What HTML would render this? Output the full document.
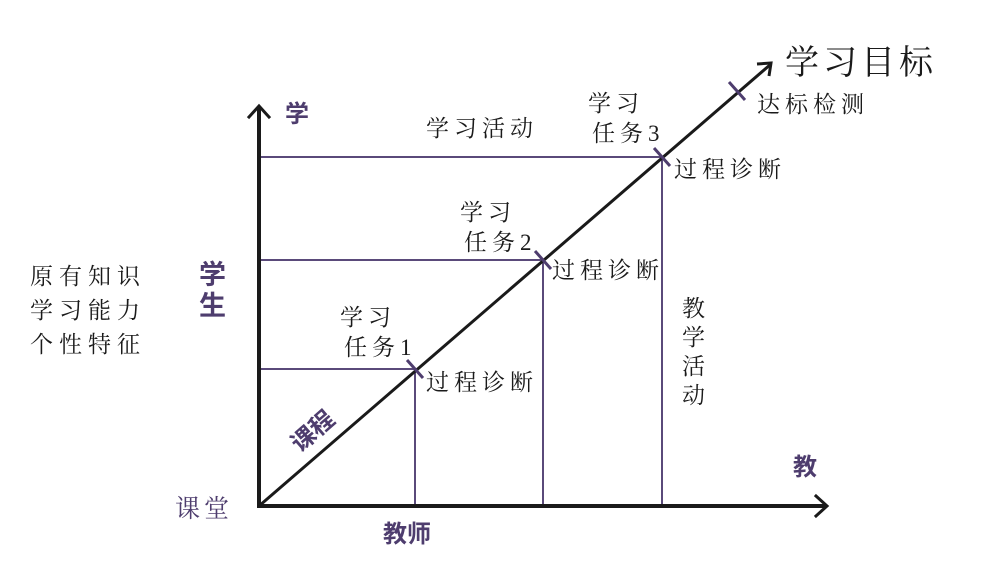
<!DOCTYPE html>
<html><head><meta charset="utf-8"><style>
body{margin:0;background:#fff;width:982px;height:567px;overflow:hidden}
svg{display:block}
.s{font-family:"Liberation Serif","Noto Serif CJK SC",serif;fill:#1a1a1a;letter-spacing:5px}
.p{font-family:"Liberation Sans","Noto Sans CJK SC",sans-serif;fill:#4e3d6e;font-weight:bold}
</style></head><body>
<svg width="982" height="567" viewBox="0 0 982 567">
<g stroke="#5a4a7a" stroke-width="2" fill="none">
<line x1="259" y1="157" x2="662" y2="157"/>
<line x1="259" y1="260" x2="543" y2="260"/>
<line x1="259" y1="369" x2="415" y2="369"/>
<line x1="662" y1="157" x2="662" y2="506"/>
<line x1="543" y1="260" x2="543" y2="506"/>
<line x1="415" y1="369" x2="415" y2="506"/>
</g>
<g stroke="#1a1a1a" stroke-width="4" fill="none" stroke-linecap="square">
<line x1="259" y1="506" x2="259" y2="108"/>
<line x1="259" y1="506" x2="824" y2="506"/>
<polyline points="249,117 259,106 269,117" stroke-width="3"/>
<polyline points="816,496 827,506 816,516" stroke-width="3"/>
</g>
<line x1="259" y1="506" x2="771" y2="64" stroke="#1a1a1a" stroke-width="3"/>
<polyline points="757,64 771,63 769,76" stroke="#1a1a1a" stroke-width="3" fill="none"/>
<g stroke="#4e3d6e" stroke-width="3">
<line x1="407" y1="360" x2="423" y2="378"/>
<line x1="535" y1="251" x2="551" y2="269"/>
<line x1="654" y1="148" x2="670" y2="166"/>
<line x1="729" y1="82" x2="745" y2="100"/>
</g>
<g class="s" font-size="23">
<text x="426" y="136">学习活动</text>
<text x="588" y="111">学习</text>
<text x="592" y="141">任务3</text>
<text x="460" y="220">学习</text>
<text x="464" y="250">任务2</text>
<text x="340" y="325">学习</text>
<text x="344" y="355">任务1</text>
<text x="674" y="177">过程诊断</text>
<text x="552" y="278">过程诊断</text>
<text x="426" y="390">过程诊断</text>
<text x="757" y="112">达标检测</text>
<text x="682" y="316">教</text>
<text x="682" y="345">学</text>
<text x="682" y="374">活</text>
<text x="682" y="403">动</text>
<text x="30" y="284" letter-spacing="6">原有知识</text>
<text x="30" y="318" letter-spacing="6">学习能力</text>
<text x="30" y="352" letter-spacing="6">个性特征</text>
<text x="785" y="74" font-size="34" letter-spacing="4">学习目标</text>
</g>
<g class="p" font-size="24">
<text x="285" y="122">学</text>
<text x="199" y="284" font-size="27">学</text>
<text x="199" y="315" font-size="27">生</text>
<text x="793" y="475">教</text>
<text x="383" y="542">教师</text>
<text x="300" y="453" transform="rotate(-41 300 453)">课程</text>
</g>
<text x="175" y="517" font-size="25" letter-spacing="4" fill="#4e3d6e" font-family="Liberation Serif,'Noto Serif CJK SC',serif">课堂</text>
</svg>
</body></html>
